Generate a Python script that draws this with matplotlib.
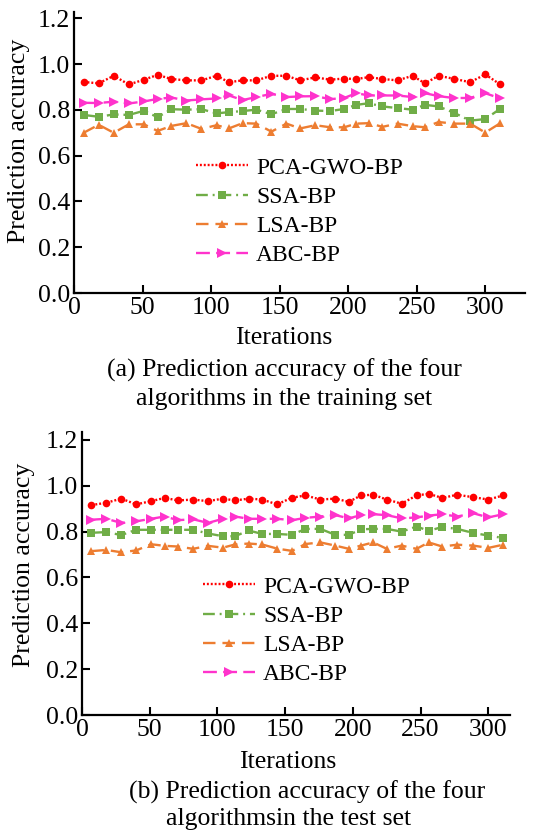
import matplotlib
matplotlib.use("Agg")
import matplotlib.pyplot as plt

plt.rcParams['font.family'] = ['Liberation Serif', 'DejaVu Serif']
plt.rcParams['lines.scale_dashes'] = False

iterations = [7, 18, 29, 40, 51, 61, 71, 82, 93, 104, 113, 123, 133, 144, 155,
              165, 176, 187, 197, 206, 215, 225, 236, 247, 256, 266, 277, 289, 300, 311]

series_names = ["PCA-GWO-BP", "SSA-BP", "LSA-BP", "ABC-BP"]

# (a) training set
train_pca = [0.922, 0.916, 0.949, 0.911, 0.932, 0.953, 0.935, 0.929, 0.929, 0.949,
             0.921, 0.929, 0.929, 0.949, 0.949, 0.929, 0.942, 0.932, 0.937, 0.935,
             0.943, 0.935, 0.929, 0.949, 0.916, 0.949, 0.936, 0.921, 0.955, 0.911]
train_ssa = [0.778, 0.770, 0.780, 0.778, 0.796, 0.768, 0.803, 0.801, 0.803, 0.785,
             0.790, 0.795, 0.801, 0.781, 0.804, 0.804, 0.797, 0.795, 0.804, 0.822,
             0.829, 0.815, 0.808, 0.801, 0.822, 0.815, 0.788, 0.753, 0.760, 0.805]
train_lsa = [0.700, 0.735, 0.700, 0.737, 0.737, 0.708, 0.730, 0.742, 0.717, 0.733,
             0.719, 0.742, 0.740, 0.705, 0.740, 0.719, 0.733, 0.724, 0.724, 0.740,
             0.742, 0.726, 0.740, 0.729, 0.724, 0.747, 0.740, 0.740, 0.701, 0.742]
train_abc = [0.831, 0.830, 0.836, 0.828, 0.837, 0.848, 0.854, 0.841, 0.846, 0.850,
             0.863, 0.843, 0.856, 0.870, 0.856, 0.859, 0.860, 0.847, 0.852, 0.873,
             0.863, 0.863, 0.863, 0.856, 0.873, 0.860, 0.852, 0.852, 0.873, 0.850]

# (b) test set
test_pca = [0.916, 0.926, 0.944, 0.919, 0.933, 0.947, 0.936, 0.940, 0.933, 0.944,
            0.936, 0.944, 0.940, 0.919, 0.948, 0.958, 0.940, 0.944, 0.930, 0.958,
            0.961, 0.940, 0.922, 0.958, 0.965, 0.947, 0.961, 0.950, 0.940, 0.958]
test_ssa = [0.795, 0.798, 0.785, 0.808, 0.808, 0.808, 0.808, 0.808, 0.792, 0.780,
            0.780, 0.805, 0.790, 0.790, 0.786, 0.812, 0.812, 0.786, 0.786, 0.810,
            0.812, 0.812, 0.800, 0.822, 0.804, 0.820, 0.812, 0.794, 0.783, 0.772]
test_lsa = [0.715, 0.720, 0.710, 0.718, 0.745, 0.738, 0.735, 0.725, 0.738, 0.730,
            0.744, 0.748, 0.744, 0.726, 0.716, 0.746, 0.753, 0.739, 0.725, 0.739,
            0.753, 0.725, 0.739, 0.725, 0.753, 0.735, 0.743, 0.739, 0.729, 0.743]
test_abc = [0.852, 0.856, 0.838, 0.845, 0.856, 0.866, 0.850, 0.854, 0.838, 0.856,
            0.866, 0.856, 0.856, 0.856, 0.850, 0.860, 0.866, 0.872, 0.858, 0.872,
            0.876, 0.872, 0.858, 0.862, 0.870, 0.876, 0.866, 0.880, 0.862, 0.876]

yticks = [0.0, 0.2, 0.4, 0.6, 0.8, 1.0, 1.2]
xticks = [0, 50, 100, 150, 200, 250, 300]

styles = [
    dict(color="#FF0000", marker="o", markersize=5.5, dashes=(1.4, 1.4)),
    dict(color="#70AD47", marker="s", markersize=5.5, dashes=(8.5, 3.5, 1.4, 3.5)),
    dict(color="#ED7D31", marker="^", markersize=6, dashes=(9, 5)),
    dict(color="#FF33CC", marker=">", markersize=6.5, dashes=(10, 4.5)),
]

W, H = 536, 840
FS = 18.5
fig = plt.figure(figsize=(W / 100, H / 100), dpi=100)


def px_axes(left, right, top, bottom):
    return fig.add_axes([left / W, 1 - bottom / H, (right - left) / W, (bottom - top) / H])


def draw(ax, data, xmax, ytop, leg_xy):
    for vals, name, st in zip(data, series_names, styles):
        ax.plot(iterations, vals, label=name, color=st["color"], marker=st["marker"],
                markersize=st["markersize"], markeredgewidth=0, linewidth=1.7,
                dashes=st["dashes"])
    ax.set_xlim(0, xmax)
    ax.set_ylim(0, ytop)
    ax.set_yticks(yticks)
    ax.set_yticklabels([f"{v:.1f}" for v in yticks])
    ax.set_xticks(xticks)
    for s in ["top", "right"]:
        ax.spines[s].set_visible(False)
    for s in ["left", "bottom"]:
        ax.spines[s].set_linewidth(1.6)
    ax.tick_params(direction="in", length=6, width=1.5, labelsize=FS, pad=3)
    ax.legend(loc="upper left", bbox_to_anchor=(leg_xy[0] / W, 1 - leg_xy[1] / H),
              bbox_transform=fig.transFigure, frameon=False, fontsize=17,
              handlelength=2.2, handletextpad=0.35, labelspacing=0.33,
              borderpad=0, borderaxespad=0)


ax1 = px_axes(74, 525, 11.7, 293)
draw(ax1, [train_pca, train_ssa, train_lsa, train_abc], 329, 1.229, (196, 157))
ax2 = px_axes(82, 510, 431.7, 715)
draw(ax2, [test_pca, test_ssa, test_lsa, test_abc], 316, 1.236, (203, 576))


def ftext(x, y, s, **kw):
    fig.text(x / W, 1 - y / H, s, ha="center", va="center", fontsize=FS, **kw)


ftext(19, 141, "Prediction accuracy", rotation=90)
ftext(24, 565, "Prediction accuracy", rotation=90)
ftext(284, 338, "Iterations")
ftext(284, 370, "(a) Prediction accuracy of the four")
ftext(284, 399, "algorithms in the training set")
ftext(288, 762, "Iterations")
ftext(307, 792, "(b) Prediction accuracy of the four")
ftext(289, 819, "algorithmsin the test set")

fig.savefig("out.png", dpi=100)
